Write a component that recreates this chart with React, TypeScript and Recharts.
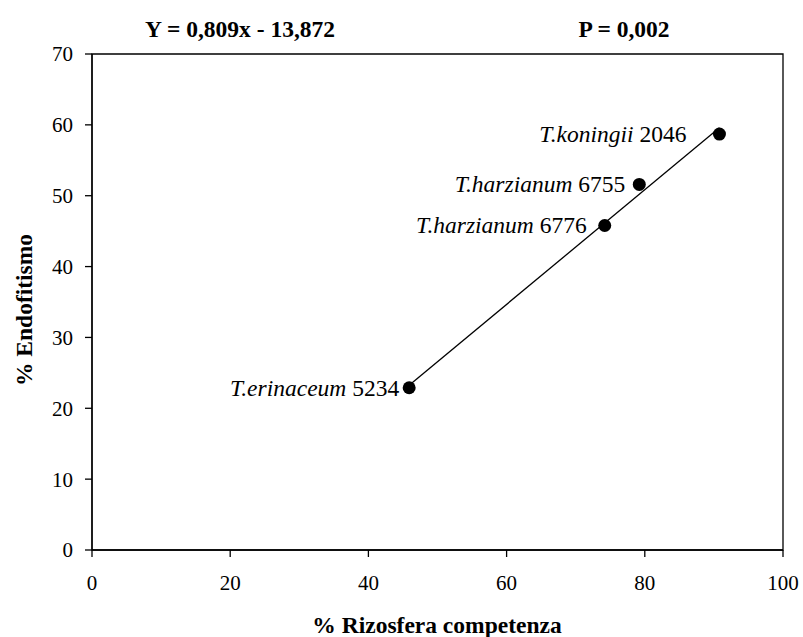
import { ReferenceArea, Scatter, ScatterChart, XAxis, YAxis } from 'recharts';

// Trichoderma strains: rhizosphere competence vs endophytism (%)
const species = ['T.erinaceum', 'T.harzianum', 'T.harzianum', 'T.koningii'];
const codes = ['5234', '6776', '6755', '2046'];
const rizosfera = [45.9, 74.2, 79.2, 90.8];
const endofitismo = [22.9, 45.8, 51.6, 58.7];

const xTicks = [0, 20, 40, 60, 80, 100];
const yTicks = [0, 10, 20, 30, 40, 50, 60, 70];

// regression reported above the chart
const slope = 0.809;
const intercept = -13.872;
const pValue = '0,002';

const FONT = 'Liberation Serif';

// distance between each marker and the end of its label
const labelGap: Record<string, number> = { '5234': 10, '6776': 18, '6755': 14, '2046': 33 };

const points = species.map((name, i) => ({
  name,
  code: codes[i],
  x: rizosfera[i],
  y: endofitismo[i],
}));

const xMin = Math.min(...rizosfera);
const xMax = Math.max(...rizosfera);
const trend = [xMin, xMax].map((x) => ({ x, y: slope * x + intercept }));

const fmt = (n: number) => n.toFixed(3).replace('.', ',');

function StrainDot(props: any) {
  const { cx, cy, payload } = props;
  if (cx == null || cy == null) return <g />;
  const gap = labelGap[payload.code] ?? 12;
  return (
    <g>
      <circle cx={cx} cy={cy} r={6.5} fill="#000" />
      <text
        x={cx - gap}
        y={cy}
        textAnchor="end"
        dominantBaseline="central"
        style={{ fontFamily: FONT, fontSize: 23.5 }}
        fill="#000"
      >
        <tspan style={{ fontStyle: 'italic' }}>{payload.name}</tspan>
        <tspan> {payload.code}</tspan>
      </text>
    </g>
  );
}

const tickStyle = { fill: '#000', fontSize: 21, style: { fontFamily: FONT } };
const axisStroke = { stroke: '#000', strokeWidth: 1.3 };

export default function App() {
  return (
    <div
      style={{
        position: 'absolute',
        left: 0,
        top: 0,
        width: 803,
        height: 637,
        background: '#fff',
        fontFamily: FONT,
      }}
    >
      <ScatterChart width={803} height={637} margin={{ top: 54, right: 20, bottom: 0, left: 0 }}>
        <XAxis
          type="number"
          dataKey="x"
          domain={[0, 100]}
          ticks={xTicks}
          height={87}
          tick={tickStyle}
          tickSize={7}
          tickMargin={18}
          axisLine={axisStroke}
          tickLine={axisStroke}
        />
        <YAxis
          type="number"
          dataKey="y"
          domain={[0, 70]}
          ticks={yTicks}
          width={92}
          tick={tickStyle}
          tickSize={7}
          tickMargin={12}
          axisLine={axisStroke}
          tickLine={axisStroke}
        />
        <ReferenceArea x1={0} x2={100} y1={0} y2={70} fill="none" stroke="#000" strokeWidth={1.3} />
        <Scatter
          data={trend}
          line={{ stroke: '#000', strokeWidth: 1.3 }}
          shape={() => <g />}
          isAnimationActive={false}
        />
        <Scatter data={points} shape={StrainDot} isAnimationActive={false} />
      </ScatterChart>
      <svg
        width={803}
        height={637}
        style={{ position: 'absolute', left: 0, top: 0, pointerEvents: 'none' }}
      >
        <g style={{ fontFamily: FONT, fontWeight: 'bold', fontSize: 23.5 }} fill="#000">
          <text x={240} y={28.5} textAnchor="middle" dominantBaseline="central">
            {`Y = ${fmt(slope)}x - ${fmt(-intercept)}`}
          </text>
          <text x={624} y={28.5} textAnchor="middle" dominantBaseline="central">
            {`P = ${pValue}`}
          </text>
          <text x={437} y={625} textAnchor="middle" dominantBaseline="central">
            % Rizosfera competenza
          </text>
          <text
            x={24}
            y={310}
            textAnchor="middle"
            dominantBaseline="central"
            transform="rotate(-90 24 310)"
          >
            % Endofitismo
          </text>
        </g>
      </svg>
    </div>
  );
}
